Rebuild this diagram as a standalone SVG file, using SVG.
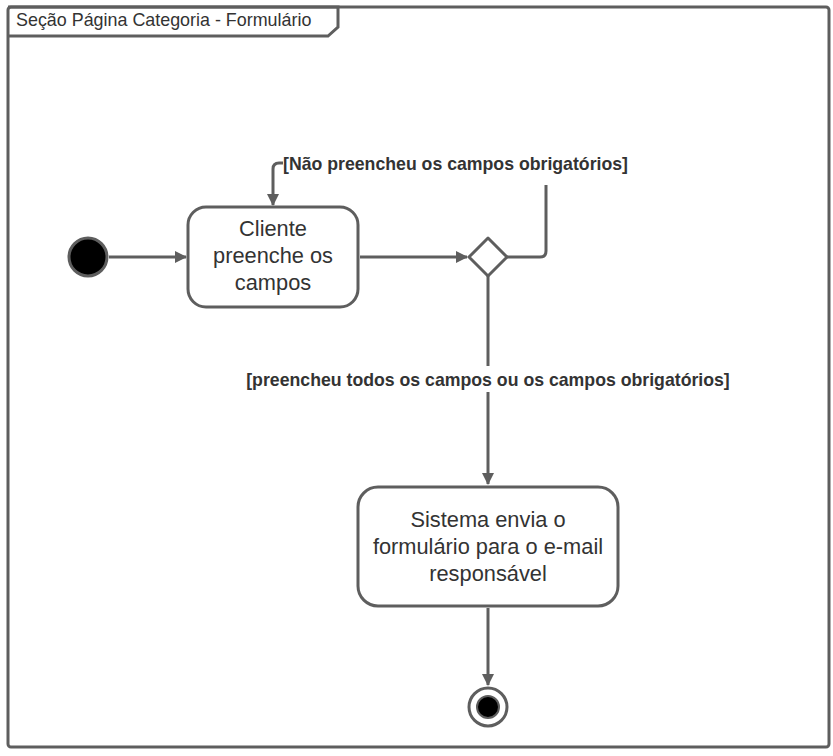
<svg xmlns="http://www.w3.org/2000/svg" width="833" height="756" viewBox="0 0 833 756">
<style>
.ln{fill:none;stroke:#5e5e5e;stroke-width:3;}
.box{fill:#fff;stroke:#5e5e5e;stroke-width:3;}
.t{font-family:"Liberation Sans",Arial,sans-serif;fill:#333;}
.nt{font-size:21.8px;text-anchor:middle;}
.lb{font-size:17.7px;font-weight:bold;}
</style>
<defs>
<marker id="ar" markerWidth="12" markerHeight="12" viewBox="0 0 12 12" refX="11" refY="6" orient="auto" markerUnits="userSpaceOnUse">
<path d="M0,0 L12,6 L0,12 Z" fill="#5e5e5e"/>
</marker>
</defs>
<rect width="833" height="756" fill="#fff"/>
<g id="frame">
<rect x="8" y="7" width="821" height="740" rx="3" class="box"/>
<path d="M8,7 L338,7 L338,27 L328,36 L8,36" class="ln"/>
<text x="16" y="26" class="t" font-size="17.9">Seção Página Categoria - Formulário</text>
</g>
<g id="connectors">
<path d="M109,257 L186,257" class="ln" marker-end="url(#ar)"/>
<path d="M360,257 L467,257" class="ln" marker-end="url(#ar)"/>
<path d="M507,257 L540,257 Q546,257 546,251 L546,185" class="ln"/>
<path d="M283,163 L279,163 Q273,163 273,169 L273,205" class="ln" marker-end="url(#ar)"/>
<path d="M488,276 L488,366" class="ln"/>
<path d="M488,392 L488,484" class="ln" marker-end="url(#ar)"/>
<path d="M488,608 L488,685" class="ln" marker-end="url(#ar)"/>
<text x="455.5" y="169.5" class="t lb" text-anchor="middle">[Não preencheu os campos obrigatórios]</text>
<text x="488" y="385.5" class="t lb" text-anchor="middle">[preencheu todos os campos ou os campos obrigatórios]</text>
</g>
<g id="start">
<circle cx="88" cy="257" r="19" fill="#000" stroke="#5e5e5e" stroke-width="3"/>
</g>
<g id="act1">
<rect x="188" y="207" width="170" height="100" rx="18" class="box"/>
<text class="t nt"><tspan x="273" y="235.5">Cliente</tspan><tspan x="273" y="262.5">preenche os</tspan><tspan x="273" y="289.5">campos</tspan></text>
</g>
<g id="decision">
<path d="M488,238 L507,257 L488,276 L469,257 Z" class="box" stroke-linejoin="round"/>
</g>
<g id="act2">
<rect x="358" y="487" width="260" height="119" rx="20" class="box"/>
<text class="t nt"><tspan x="488" y="526.5">Sistema envia o</tspan><tspan x="488" y="554">formulário para o e-mail</tspan><tspan x="488" y="581">responsável</tspan></text>
</g>
<g id="end">
<circle cx="488" cy="707" r="19" fill="#fff" stroke="#5e5e5e" stroke-width="3"/>
<circle cx="488" cy="707" r="11" fill="#000" stroke="#5e5e5e" stroke-width="2"/>
</g>
</svg>
